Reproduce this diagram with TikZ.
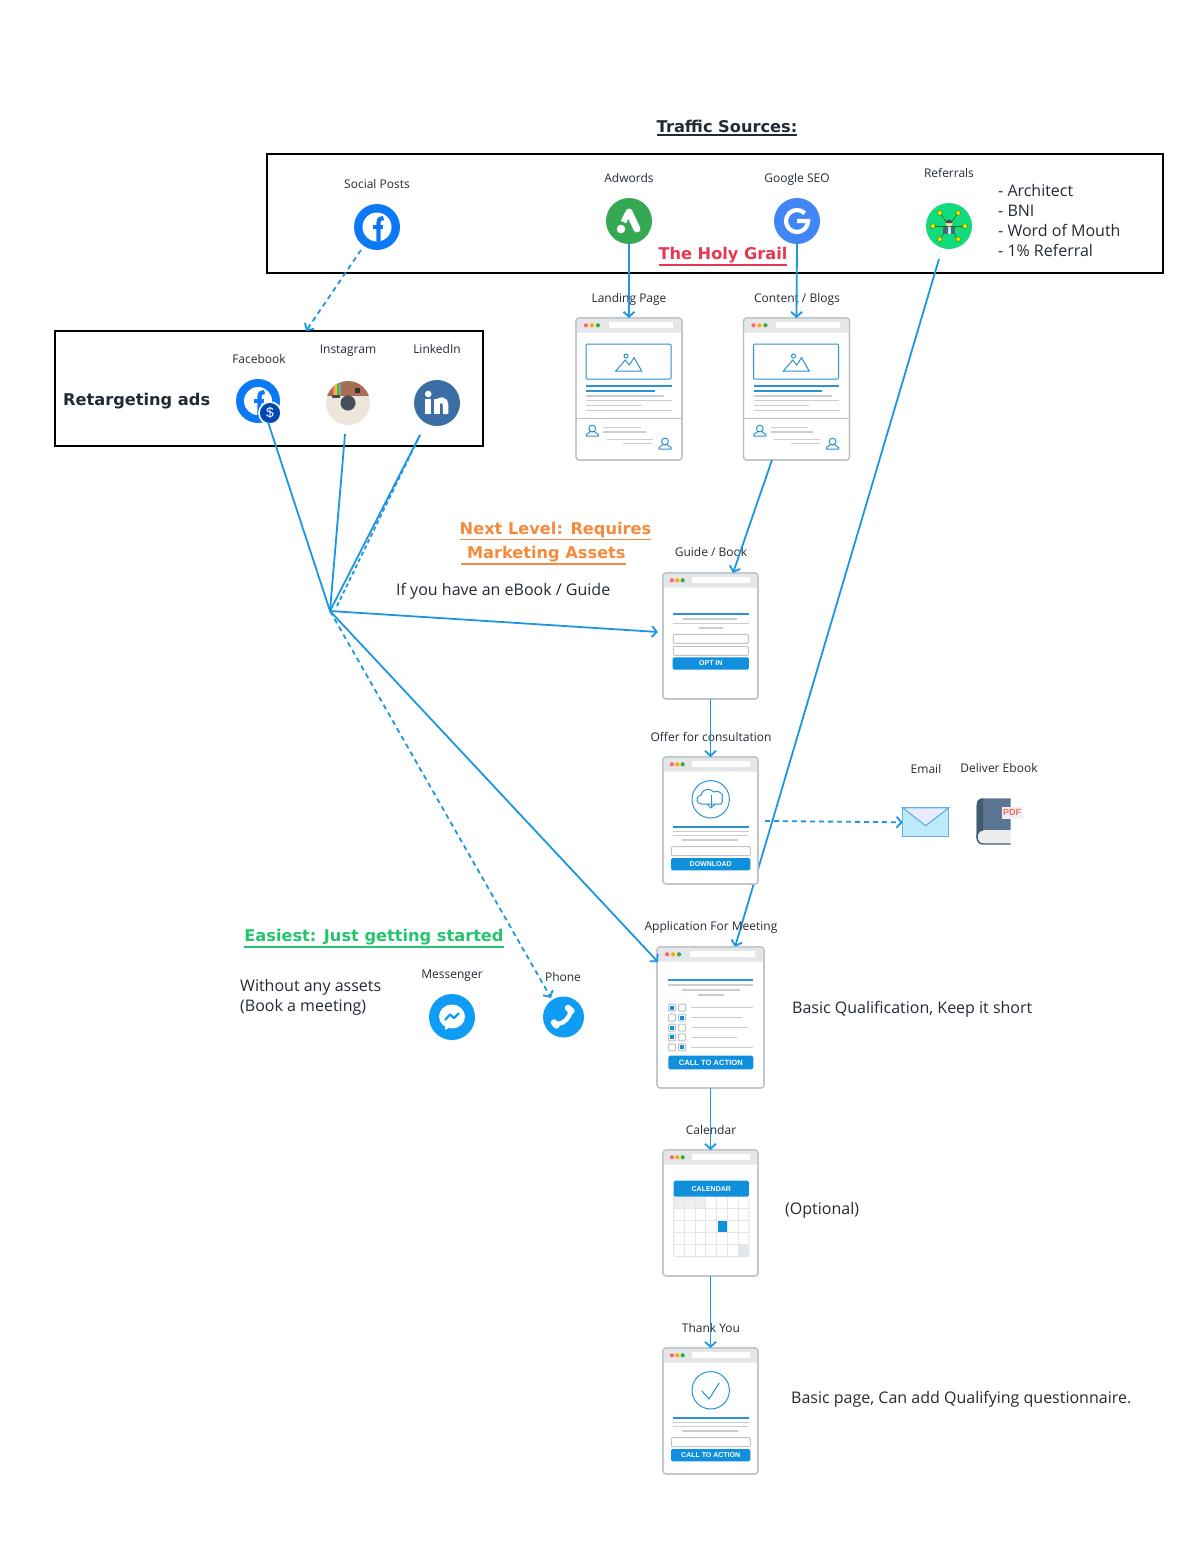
\documentclass[tikz,border=0pt]{standalone}
\usepackage{fontspec}
\usepackage{amsmath}
\usepackage{color}
\usetikzlibrary{arrows.meta}
\setmainfont{Open Sans}
\newfontfamily\headfont{DejaVu Sans}
\newfontfamily\btnfont{Liberation Sans}

\definecolor{flowblue}{RGB}{27,150,224}
\definecolor{inkdark}{RGB}{35,42,52}
\definecolor{pageedge}{RGB}{186,192,199}
\definecolor{pagehead}{RGB}{228,231,234}
\definecolor{greybar}{RGB}{200,205,212}
\definecolor{linkblue}{RGB}{42,147,208}
\definecolor{btnblue}{RGB}{15,143,220}
\definecolor{fbblue}{RGB}{11,120,245}
\definecolor{msgblue}{RGB}{15,156,245}
\definecolor{adgreen}{RGB}{52,168,83}
\definecolor{googblue}{RGB}{66,133,244}
\definecolor{refgreen}{RGB}{17,219,124}
\definecolor{inblue}{RGB}{58,110,165}
\definecolor{grailred}{RGB}{232,56,79}
\definecolor{nextorange}{RGB}{245,138,60}
\definecolor{easygreen}{RGB}{37,196,110}
\definecolor{bookblue}{RGB}{90,118,146}
\definecolor{bookdark}{RGB}{66,92,118}
\definecolor{instabrown}{RGB}{168,109,85}
\definecolor{instacream}{RGB}{235,229,218}

\tikzset{
  flowline/.style={draw=flowblue,line width=1.8pt,->,>={Straight Barb[length=5pt,width=11pt]}},
  flowdash/.style={flowline,dash pattern=on 5pt off 4pt},
  plainflow/.style={draw=flowblue,line width=1.8pt},
  framebox/.style={draw=black,line width=2pt,inner sep=0pt,outer sep=0pt},
  pagebox/.style={draw=pageedge,fill=white,line width=1.2pt,rounded corners=3pt,inner sep=0pt,outer sep=0pt},
  smalllabel/.style={font=\fontsize{12}{14}\selectfont,text=inkdark,inner sep=0pt,text height=10pt,text depth=2pt},
  biglabel/.style={font=\fontsize{16}{20}\selectfont,text=inkdark,inner sep=0pt,anchor=west,align=left},
  headlabel/.style={font=\headfont\bfseries\fontsize{16.2}{20}\selectfont,inner sep=0pt,anchor=base},
  icondisc/.style={circle,inner sep=0pt,outer sep=0pt,minimum size=46pt},
  pagebutton/.style={fill=btnblue,rounded corners=1.5pt,text=white,inner sep=0pt,font=\btnfont\bfseries\fontsize{7}{8}\selectfont},
  greyrule/.style={draw=greybar,line width=1.5pt},
  bluerule/.style={draw=linkblue,line width=2pt},
  sketchline/.style={draw=linkblue,line width=1pt},
  inputbox/.style={draw=pagehead!85!black,line width=1pt,fill=white,rounded corners=1pt}
}

% heading underline
\newcommand{\headbar}[1]{\leavevmode\vtop{\hbox{#1}\kern1.4pt\hrule height1.3pt}}

% page outline, header strip, dots and address bar
\newcommand{\pageframe}[5]{%
  \node[pagebox,minimum width=#4 pt,minimum height=#5 pt] (#1) at (#2,#3) {};
  \begin{scope}[shift={(#1.north west)}]
    \fill[pagehead] (0,14.5) [rounded corners=3pt] -- (0,0) -- (#4,0) [sharp corners] -- (#4,14.5) -- cycle;
    \draw[pageedge,line width=1.2pt,rounded corners=3pt] (0,0) rectangle (#4,#5);
    \fill[red!60!white] ({.094*#4},7.3) circle (2.1pt);
    \fill[orange!70!yellow] ({.15*#4},7.3) circle (2.1pt);
    \fill[green!55!black!75!white] ({.207*#4},7.3) circle (2.1pt);
    \fill[white] ({.31*#4},4.2) rectangle ({.915*#4},10.4);
  \end{scope}}

\newcommand{\persona}[2]{%
  \draw[sketchline] (#1,{#2-7.5}) circle (3.4pt);
  \draw[sketchline] ({#1-6},#2) -- ({#1-6},{#2-1.5}) .. controls ({#1-5},{#2-3.5}) and ({#1-2},{#2-3}) .. ({#1-2},{#2-4.5})
    -- ({#1+2},{#2-4.5}) .. controls ({#1+2},{#2-3}) and ({#1+5},{#2-3.5}) .. ({#1+6},{#2-1.5}) -- ({#1+6},#2) -- cycle;}

\newcommand{\landingbody}{%
  \draw[sketchline,rounded corners=1pt] (10,26) rectangle (95,61);
  \draw[sketchline] (50,38) circle (2pt);
  \draw[sketchline] (39.7,53) -- (49.3,42) -- (53.3,47) -- (58,39.7) -- (65.7,53) -- cycle;
  \draw[bluerule] (10,68) -- (95.5,68);
  \draw[bluerule] (10,73) -- (78.7,73);
  \foreach \y/\a/\b in {78/10/88,82.7/10/95.5,87.7/10/65.7,92.7/10/96,109.7/27/64.7,114/27/69.7,121.7/30.7/76.7,125.7/47.3/76.7}
    \draw[greyrule] (\a,\y) -- (\b,\y);
  \draw[pageedge,line width=.9pt] (0,100.3) -- (106,100.3);
  \persona{16.3}{118}
  \persona{89}{131}}

% blue rule, grey rules, one input and a button: the two lower pages share it
\newcommand{\formbody}[2]{%
  \draw[sketchline] (47.7,42.3) circle (18.7pt);
  \draw[bluerule] (9.7,69.7) -- (86,69.7);
  \foreach \y/\a/\b in {74.3/9.7/86,78.7/9.7/86,83/18.7/75.3}
    \draw[greyrule] (\a,\y) -- (\b,\y);
  \draw[inputbox] (8.3,89.7) rectangle (87.3,98.7);
  \node[pagebutton,minimum width=79.3pt,minimum height=12.3pt] (#1) at (47.7,107.2) {#2};}

\begin{document}
\begin{tikzpicture}[x=1pt,y=-1pt]
\useasboundingbox (0,0) rectangle (1200,1548);

\node[headlabel,text=inkdark] (trafficttl) at (727,132.7) {\headbar{Traffic Sources:}};
\node[framebox,minimum width=896pt,minimum height=119pt] (trafficbox) at (715,213.5) {};
\node[framebox,minimum width=428pt,minimum height=115pt] (retargetbox) at (269,388.5) {};

% line behind the pages
\coordinate (referralout) at (939,259);
\coordinate (appin) at (735,947);
\draw[flowline] (referralout) -- (appin);

\node[smalllabel] (sociallbl) at (377,184.5) {Social Posts};
\node[smalllabel] (adwordslbl) at (629,178) {Adwords};
\node[smalllabel] (googlelbl) at (797,178) {Google SEO};
\node[smalllabel] (referrallbl) at (949,173) {Referrals};
\node[biglabel] (referrallist) at (998,220.5) {- Architect\\- BNI\\- Word of Mouth\\- 1\% Referral};

% traffic icons
\node[icondisc,fill=fbblue] (social) at (377,227) {};
\begin{scope}[shift={(social)},y=1pt]
  \fill[white] (0,0) circle (14.5pt);
  \draw[fbblue,line width=4.2pt] (1.5,-14.5) -- (1.5,4) .. controls (1.5,8) and (3.5,9) .. (6.5,9);
  \draw[fbblue,line width=3.5pt] (-4,0) -- (6,0);
\end{scope}
\node[icondisc,fill=adgreen] (adwords) at (629,221) {};
\begin{scope}[shift={(adwords)},y=1pt]
  \draw[white,line width=7pt,line cap=round] (0,9) -- (8,-8);
  \draw[white,line width=6pt] (-1,8) -- (-5.5,-1);
  \fill[white] (-8,-8) circle (4.3pt);
\end{scope}
\node[icondisc,fill=googblue] (google) at (797,221) {};
\begin{scope}[shift={(google)},y=1pt]
  \draw[white,line width=4.2pt] (45:11) arc[start angle=45,end angle=360,radius=11pt] -- (0,0);
\end{scope}
\node[icondisc,fill=refgreen] (referral) at (949,226) {};
\begin{scope}[shift={(referral)},y=1pt]
  \foreach \a in {0,55,125,180,235,305} {
    \draw[black!55!green,line width=.5pt] (0,0) -- (\a:16);
    \filldraw[fill=yellow!75!orange,draw=black!50!green,line width=.3pt] (\a:16) circle (2.4pt);
  }
  \fill[black!60!cyan] (-6,-8) -- (-6,-1) -- (6,-1) -- (6,-8) -- cycle;
  \fill[cyan!25!white] (-1.5,-8) rectangle (1.5,-1);
  \fill[orange!30!white] (0,3) circle (3.6pt);
  \fill[black!70] (-3.6,3) arc[start angle=180,end angle=0,radius=3.6pt] -- cycle;
\end{scope}

\node[headlabel,text=grailred] (holygrail) at (723,259.3) {\headbar{The Holy Grail}};
\node[smalllabel] (landinglbl) at (629,298) {Landing Page};
\node[smalllabel] (contentlbl) at (797,298) {Content / Blogs};

\node[headlabel,text=inkdark,anchor=base west] (retargetlbl) at (63,405) {Retargeting ads};
\node[smalllabel] (fblbl) at (259,359) {Facebook};
\node[smalllabel] (instalbl) at (348,349) {Instagram};
\node[smalllabel] (linkedinlbl) at (437,349) {LinkedIn};

% retargeting icons
\node[icondisc,fill=fbblue,minimum size=44pt] (fbads) at (258,401) {};
\begin{scope}[shift={(fbads)},y=1pt]
  \fill[white] (0,0) circle (14pt);
  \draw[fbblue,line width=4.2pt] (1.5,-14) -- (1.5,4) .. controls (1.5,8) and (3.5,9) .. (6.5,9);
  \draw[fbblue,line width=3.5pt] (-4,0) -- (6,0);
\end{scope}
\node[circle,fill=blue!60!cyan!70!black,draw=white,line width=1.6pt,minimum size=22pt,inner sep=0pt,text=white,font=\btnfont\fontsize{14}{14}\selectfont] (fbdollar) at (270,413) {\$};
\node[icondisc,fill=instacream,minimum size=44pt] (insta) at (348,403) {};
\begin{scope}[shift={(insta)},y=1pt]
  \clip (0,0) circle (22pt);
  \fill[instabrown] (-22,7) rectangle (22,23);
  \fill[red!50!white] (-15,7) rectangle (-13,20);
  \fill[yellow!60!orange] (-13,7) rectangle (-11,20);
  \fill[green!40!gray] (-11,7) rectangle (-9,20);
  \fill[cyan!40!gray] (-9,7) rectangle (-7,20);
  \fill[black!70] (-16,5) rectangle (-8,8);
  \fill[black!80] (7,10) rectangle (12,15);
  \fill[black!75!cyan] (0,0) circle (7.5pt);
  \fill[cyan!25!black] (0,0) circle (5pt);
\end{scope}
\node[icondisc,fill=inblue] (linkedin) at (437,403) {};
\begin{scope}[shift={(linkedin)},y=1pt]
  \fill[white] (-8.8,9) circle (3.3pt);
  \draw[white,line width=5.8pt] (-8.8,-11) -- (-8.8,4);
  \draw[white,line width=5.6pt] (0,-11) -- (0,4);
  \draw[white,line width=5.6pt] (8.6,-11) -- (8.6,-2) .. controls (8.6,4) and (2,4) .. (0,0);
\end{scope}

\pageframe{landing}{629}{389}{106}{142}
\begin{scope}[shift={(landing.north west)}]\landingbody\end{scope}
\pageframe{content}{796.5}{389}{106}{142}
\begin{scope}[shift={(content.north west)}]\landingbody\end{scope}

\node[headlabel,text=nextorange] (nextlvl) at (555.5,534.3) {\headbar{Next Level: Requires}};
\node[headlabel,text=nextorange] (assetslbl) at (543.5,558.5) {\headbar{\ Marketing Assets}};
\node[biglabel] (ebooklbl) at (396,591) {If you have an eBook / Guide};

\node[smalllabel] (guidelbl) at (711,552) {Guide / Book};
\pageframe{guide}{710.5}{636}{95}{126}
\begin{scope}[shift={(guide.north west)}]
  \draw[bluerule] (9.7,41.3) -- (86,41.3);
  \foreach \y/\a/\b in {46/20/74,50.3/9.7/86,55/36.3/59.7}
    \draw[greyrule] (\a,\y) -- (\b,\y);
  \draw[inputbox] (10.3,61.3) rectangle (85.3,70.3);
  \draw[inputbox] (10.3,73.3) rectangle (85.3,82.3);
  \node[pagebutton,minimum width=76.3pt,minimum height=12.4pt] (optin) at (47.8,90.5) {OPT IN};
\end{scope}

\node[smalllabel] (offerlbl) at (711,737) {Offer for consultation};
\pageframe{offer}{710.5}{820.5}{95}{127}
\begin{scope}[shift={(offer.north west)}]
  \formbody{download}{DOWNLOAD}
  \draw[sketchline,rounded corners=3pt] (38,47) .. controls (33,47) and (33,39) .. (39,39) .. controls (39,33) and (47,31) .. (50,36) .. controls (56,33) and (60,38) .. (58,41) .. controls (60,44) and (58,47) .. (55,47) -- (38,47);
  \draw[sketchline] (48,38) -- (48,51);
  \draw[sketchline] (44,47) -- (48,51) -- (52,47);
\end{scope}

\node[smalllabel] (emaillbl) at (926,769) {Email};
\node[smalllabel] (deliverlbl) at (999,768.5) {Deliver Ebook};
\node[draw=flowblue!70!white,fill=cyan!25!white,line width=1.2pt,minimum width=46pt,minimum height=29pt,inner sep=0pt,outer sep=0pt] (email) at (925.7,822.3) {};
\filldraw[fill=white!92!blue,draw=flowblue!70!white,line width=1.2pt] (email.north west) -- (925.7,825.7) -- (email.north east) -- cycle;
% book
\fill[bookblue] (1010.7,798.3) -- (983,798.3) .. controls (979,798.3) and (976.7,801) .. (976.7,805) -- (976.7,838) -- (983,830) -- (1010.7,830) -- cycle;
\fill[bookdark] (983,798.3) -- (983,798.3) .. controls (979,798.3) and (976.7,801) .. (976.7,805) -- (976.7,838) -- (983,830) -- cycle;
\fill[gray!15!white] (1010.7,830) -- (983,830) .. controls (975,830) and (975,844) .. (983,844) -- (1010.7,844) -- cycle;
\draw[bookdark,line width=1.4pt] (983,830) .. controls (975,830) and (975,844) .. (983,844) -- (1010.7,844);
\node[fill=gray!12!white,text=red!60!white,inner sep=1pt,minimum width=21pt,minimum height=12pt,font=\btnfont\bfseries\fontsize{9}{9}\selectfont] (pdfmark) at (1012,812.8) {PDF};

\node[headlabel,text=easygreen] (easiestlbl) at (374,941.5) {\headbar{Easiest: Just getting started}};
\node[biglabel] (noassets) at (240,997) {Without any assets\\(Book a meeting)};
\node[smalllabel] (messengerlbl) at (452,974) {Messenger};
\node[smalllabel] (phonelbl) at (563,977) {Phone};
\node[icondisc,fill=msgblue] (messenger) at (452,1017) {};
\begin{scope}[shift={(messenger)},y=1pt]
  \fill[white] (0,0.5) ellipse (13pt and 12pt);
  \fill[white] (-7,-8) -- (-7,-13) -- (0,-9) -- cycle;
  \draw[msgblue,line width=2.2pt,line join=round] (-7,-3) -- (-2,2.5) -- (2,-1) -- (7,4);
\end{scope}
\node[icondisc,fill=msgblue,minimum size=41pt] (phone) at (563.5,1017) {};
\begin{scope}[shift={(phone)},y=1pt]
  \draw[white,line width=4.4pt] (7,6) .. controls (7,0) and (0,-7) .. (-6,-7);
  \draw[white,line width=6.4pt,line cap=round] (4.5,9) -- (8,6);
  \draw[white,line width=6.4pt,line cap=round] (-9.5,-5.5) -- (-7,-8.5);
\end{scope}

\node[smalllabel] (applicationlbl) at (711,926) {Application For Meeting};
\pageframe{application}{710.5}{1017.5}{107}{141}
\begin{scope}[shift={(application.north west)}]
  \draw[bluerule] (11,33) -- (96.3,33);
  \foreach \y/\a/\b in {38/11/96.3,43/24.7/83,48/41.3/67}
    \draw[greyrule] (\a,\y) -- (\b,\y);
  \foreach \y/\e in {60.7/96.3,70.7/85,80.7/92.3,90.3/79.7,100.3/96.3}
    \draw[greyrule] (34.3,\y) -- (\e,\y);
  \foreach \y/\a/\b in {60.7/15/25,70.7/25/15,80.7/15/25,90.3/15/25,100.3/25/15} {
    \draw[inputbox,draw=pageedge] ({\a-3.5},{\y-3.5}) rectangle ({\a+3.5},{\y+3.5});
    \draw[inputbox,draw=pageedge] ({\b-3.5},{\y-3.5}) rectangle ({\b+3.5},{\y+3.5});
    \fill[btnblue] ({\a-2},{\y-2}) rectangle ({\a+2},{\y+2});
  }
  \node[pagebutton,minimum width=85pt,minimum height=13.6pt,font=\btnfont\bfseries\fontsize{7.6}{8}\selectfont] (callaction) at (53.8,115.5) {CALL TO ACTION};
\end{scope}
\node[biglabel] (qualifylbl) at (792,1009.5) {Basic Qualification, Keep it short};

\node[smalllabel] (calendarlbl) at (711,1130) {Calendar};
\pageframe{calendar}{710.5}{1213}{95}{126}
\begin{scope}[shift={(calendar.north west)}]
  \fill[pagehead!70!white] (10.7,46.7) rectangle (43,58.7);
  \fill[pagehead] (75.3,94.7) rectangle (86,106.7);
  \fill[btnblue] (54.5,70.7) rectangle (65.3,82.7);
  \foreach \x in {1,...,6}
    \draw[pagehead,line width=1pt] ({10.7+\x*10.76},46.7) -- ({10.7+\x*10.76},106.7);
  \foreach \y in {1,...,4}
    \draw[pagehead,line width=1pt] (10.7,{46.7+\y*12}) -- (86,{46.7+\y*12});
  \draw[pagehead,line width=1pt,rounded corners=2pt] (10.7,46.7) -- (10.7,106.7) -- (86,106.7) -- (86,46.7);
  \node[pagebutton,minimum width=75.3pt,minimum height=16pt] (calhead) at (48.3,38.7) {CALENDAR};
\end{scope}
\node[biglabel] (optionallbl) at (785,1210) {(Optional)};

\node[smalllabel] (thankslbl) at (711,1328) {Thank You};
\pageframe{thanks}{710.5}{1411}{95}{126}
\begin{scope}[shift={(thanks.north west)}]
  \formbody{calltoact}{CALL TO ACTION}
  \draw[sketchline] (38.7,42.7) -- (46,51) -- (56.3,34.7);
\end{scope}
\node[biglabel] (basicpagelbl) at (791,1399) {Basic page, Can add Qualifying questionnaire.};

% connectors
\coordinate (socialout) at (361,250);
\coordinate (retargetin) at (306,331);
\draw[flowdash] (socialout) -- (retargetin);
\draw[flowline] (adwords.south) -- (landing.north);
\draw[flowline] (google.south) -- (content.north);
\coordinate (contentout) at (772,460);
\coordinate (guidein) at (733,573);
\draw[flowline] (contentout) -- (guidein);

\coordinate (hub) at (330,611);
\coordinate (fbout) at (268,422);
\coordinate (instaout) at (345,434);
\coordinate (linkedout) at (420,435);
\coordinate (dashstart) at (337,606);
\draw[plainflow] (fbout) -- (hub);
\draw[plainflow] (instaout) -- (hub);
\draw[plainflow] (linkedout) -- (hub);
\draw[plainflow,dash pattern=on 4pt off 3pt] (dashstart) -- (linkedout);
\coordinate (guideside) at (658,632);
\coordinate (applyside) at (658,962);
\coordinate (phonein) at (551,998);
\draw[flowline] (hub) -- (guideside);
\draw[flowline] (hub) -- (applyside);
\draw[flowdash] (hub) -- (phonein);

\draw[flowline] (guide.south) -- (offer.north);
\coordinate (offerout) at (765,821);
\draw[flowdash] (offerout) -- (email.west);
\draw[flowline] (application.south) -- (calendar.north);
\draw[flowline] (calendar.south) -- (thanks.north);
\end{tikzpicture}
\end{document}
